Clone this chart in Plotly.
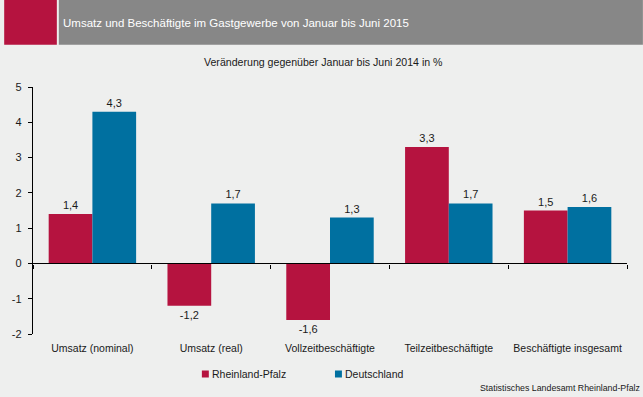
import plotly.graph_objects as go

categories = ["Umsatz (nominal)", "Umsatz (real)", "Vollzeitbeschäftigte",
              "Teilzeitbeschäftigte", "Beschäftigte insgesamt"]
rlp_values = [1.4, -1.2, -1.6, 3.3, 1.5]
de_values = [4.3, 1.7, 1.3, 1.7, 1.6]
series_names = ["Rheinland-Pfalz", "Deutschland"]
y_tick_vals = [-2, -1, 0, 1, 2, 3, 4, 5]
y_tick_text = ["-2", "-1", "0", "1", "2", "3", "4", "5"]

title_text = "Umsatz und Beschäftigte im Gastgewerbe von Januar bis Juni 2015"
subtitle_text = "Veränderung gegenüber Januar bis Juni 2014 in %"
source_text = "Statistisches Landesamt Rheinland-Pfalz"

RED = "#B5133F"
BLUE = "#0070A0"
BG = "#EEEFEE"
HEADER = "#878787"
FONT = "Liberation Sans, Arial, sans-serif"
series_colors = [RED, BLUE]

W, H = 643, 397
ML, MR, MT, MB = 29, 16, 87, 63
PW, PH = W - ML - MR, H - MT - MB


def px_x(px):
    return (px - ML) / PW


def px_y(py):
    return (H - MB - py) / PH


fig = go.Figure()
for name, vals, col in zip(series_names, [rlp_values, de_values], series_colors):
    fig.add_trace(go.Bar(x=categories, y=vals, name=name,
                         marker=dict(color=col, line=dict(width=0)),
                         texttemplate="%{y:.1f}", textposition="outside",
                         textfont=dict(size=11, color="#1a1a1a", family=FONT),
                         cliponaxis=False, showlegend=False))
# helper trace so the zero-line axis is rendered
fig.add_trace(go.Scatter(x=[0], y=[0], xaxis="x2", mode="markers",
                         marker=dict(opacity=0), showlegend=False, hoverinfo="skip"))

n = len(categories)
fig.update_layout(
    width=W, height=H,
    margin=dict(l=ML, r=MR, t=MT, b=MB, pad=0),
    paper_bgcolor=BG, plot_bgcolor=BG,
    font=dict(family=FONT, size=11, color="#1a1a1a"),
    separators=",.",
    barmode="group", bargap=0.264, bargroupgap=0,
    showlegend=False,
    xaxis=dict(range=[-0.5, n - 0.5], showline=False, ticks="", showgrid=False,
               zeroline=False, ticklabelstandoff=6, tickfont=dict(size=10.5, family=FONT)),
    xaxis2=dict(overlaying="x", anchor="free", position=2 / 7, range=[-0.5, n - 0.5],
                tickvals=[i - 0.5 for i in range(n + 1)], ticks="outside", ticklen=4,
                tickcolor="black", showline=True, linecolor="black", linewidth=1.3,
                showticklabels=False, showgrid=False, zeroline=False),
    yaxis=dict(range=[-2, 5], tickvals=y_tick_vals, ticktext=y_tick_text,
               showline=True, linecolor="black", linewidth=1.3, ticks="outside",
               ticklen=4, tickcolor="black", showgrid=False, zeroline=False,
               ticklabelstandoff=4, tickfont=dict(size=11, family=FONT)),
)

# header band
fig.add_shape(type="rect", xref="paper", yref="paper", x0=px_x(0), x1=px_x(53),
              y0=px_y(44.7), y1=px_y(0), fillcolor=RED, line=dict(width=0), layer="below")
fig.add_shape(type="rect", xref="paper", yref="paper", x0=px_x(55), x1=px_x(W),
              y0=px_y(44.7), y1=px_y(0), fillcolor=HEADER, line=dict(width=0), layer="below")

fig.add_annotation(text=title_text, xref="paper", yref="paper", x=px_x(57), y=px_y(23),
                   xanchor="left", yanchor="middle", showarrow=False,
                   font=dict(size=11.5, color="white", family=FONT))
fig.add_annotation(text=subtitle_text, xref="paper", yref="paper", x=px_x(321), y=px_y(62),
                   xanchor="center", yanchor="middle", showarrow=False,
                   font=dict(size=10.6, color="#1a1a1a", family=FONT))
fig.add_annotation(text=source_text, xref="paper", yref="paper", x=px_x(642), y=px_y(388),
                   xanchor="right", yanchor="middle", showarrow=False,
                   font=dict(size=8.8, color="#1a1a1a", family=FONT))

# legend (small squares + labels)
legend_x = [199, 333]
for name, col, lx in zip(series_names, series_colors, legend_x):
    fig.add_shape(type="rect", xref="paper", yref="paper", x0=px_x(lx), x1=px_x(lx + 7),
                  y0=px_y(377.5), y1=px_y(370.5), fillcolor=col, line=dict(width=0))
    fig.add_annotation(text=name, xref="paper", yref="paper", x=px_x(lx + 8), y=px_y(374),
                       xanchor="left", yanchor="middle", showarrow=False,
                       font=dict(size=10.5, color="#1a1a1a", family=FONT))

fig.write_html("out.html", config={"displayModeBar": False},
               post_script="document.body.style.margin='0';")
